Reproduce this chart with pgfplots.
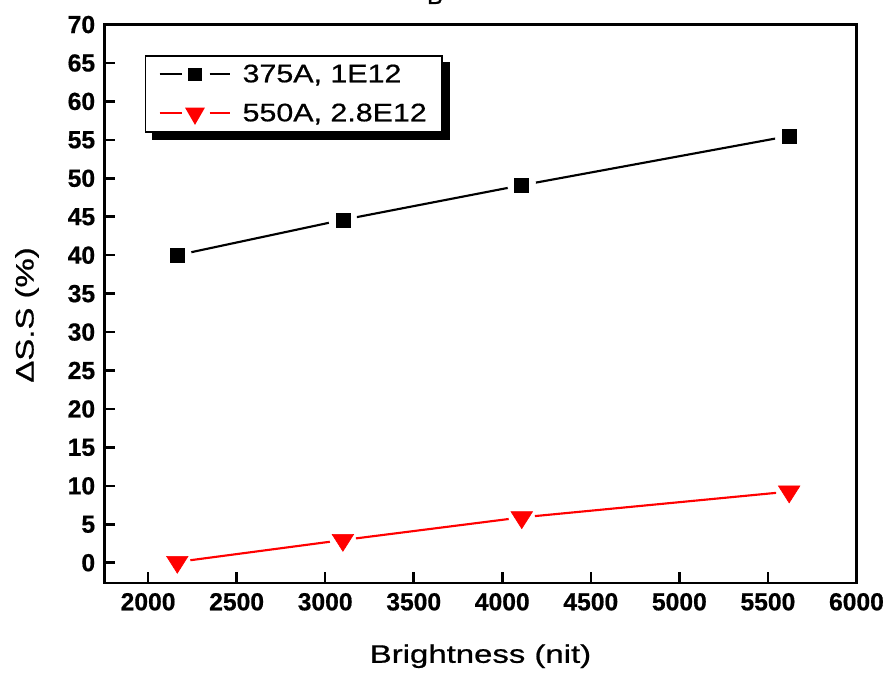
\documentclass[border=0pt]{standalone}
\usepackage{fontspec}
\setmainfont[FakeBold=0.6]{Liberation Sans}
\usepackage{pgfplots}
\pgfplotsset{compat=1.18}
\usetikzlibrary{backgrounds}
\pgfplotsset{gaplegend/.style={legend image code/.code={
  \draw[##1, mark=none] (0pt,0pt) -- (16.5pt,0pt);
  \draw[##1, mark=none] (37.5pt,0pt) -- (52.5pt,0pt);
  \draw[##1, only marks] plot coordinates {(26.6pt,0pt)};
}}}
\begin{document}
\begin{tikzpicture}
\begin{axis}[
  name=ax,
  width=564pt, height=418.9pt, scale only axis,
  xmin=1754, xmax=6000, ymin=-2.64, ymax=70,
  xtick={2000,2500,...,6000}, ytick={0,5,...,70},
  tick pos=left, tick align=inside, major tick length=8pt,
  axis line style={line width=1.9pt},
  tick style={black, line width=1.9pt},
  xticklabel style={font=\fontsize{18.5}{18.5}\selectfont\bfseries, yshift=-4pt},
  yticklabel style={font=\fontsize{18.5}{18.5}\selectfont\bfseries, xshift=-3.5pt},
  /pgf/number format/assume math mode=true,
  /pgf/number format/1000 sep={},
  scaled x ticks=false,
  xlabel={\scalebox{1.3}[1]{Brightness (nit)}},
  ylabel={\scalebox{1.3}[1]{ΔS.S (\%)}},
  xlabel style={at={(axis description cs:0.5,-0.1428)}, anchor=base, font=\fontsize{19}{19}\selectfont},
  ylabel style={at={(axis description cs:-0.0944,0.48)}, anchor=base, font=\fontsize{19}{19}\selectfont},
  legend style={name=leg, at={(axis description cs:0.054,0.945)}, anchor=north west,
    draw=black, line width=1pt, fill=white,
    font=\fontsize{19}{19}\selectfont, inner xsep=9.5pt, inner ysep=4.5pt, row sep=10.5pt,
    /tikz/every odd column/.append style={column sep=7pt}},
  legend cell align=left,
]
% black series
\addplot[black, line width=1.6pt, mark=none, forget plot] table {
x y
2165 40.0
3100 44.6
4110 49.1
5620 55.5
};
\addplot[only marks, mark=*, mark size=10.5pt, white, forget plot] table {
x y
2165 40.0
3100 44.6
4110 49.1
5620 55.5
};
\addplot[only marks, mark=square*, mark size=5.25pt, black, forget plot] table {
x y
2165 40.0
3100 44.6
4110 49.1
5620 55.5
};
% red series
\addplot[red, line width=1.6pt, mark=none, forget plot] table {
x y
2165 0.1
3100 2.95
4110 5.9
5620 9.25
};
\addplot[only marks, mark=*, mark size=9.75pt, white, forget plot] table {
x y
2165 0.1
3100 2.95
4110 5.9
5620 9.25
};
\addplot[only marks, mark=triangle*, mark size=8.5pt, red, mark options={rotate=180, xscale=1.1}, forget plot] table {
x y
2165 0.1
3100 2.95
4110 5.9
5620 9.25
};
\addlegendimage{black, line width=1.6pt, mark=square*, mark size=4.1pt, gaplegend}
\addlegendentry{\scalebox{1.2}[1]{375A, 1E12}}
\addlegendimage{red, line width=1.6pt, mark=triangle*, mark size=7pt, mark options={rotate=180}, gaplegend}
\addlegendentry{\scalebox{1.2}[1]{550A, 2.8E12}}
\end{axis}
\begin{pgfonlayer}{background}
\fill[black] ([shift={(5.25pt,-5.25pt)}]leg.south west) rectangle ([shift={(5.25pt,-5.25pt)}]leg.north east);
\end{pgfonlayer}
\path (ax.north west) ++(247.9pt,15.4pt) node[anchor=base, font=\fontsize{18}{18}\selectfont, inner sep=0pt] {B};
\pgfresetboundingbox
\path[use as bounding box] ([shift={(-78.4pt,-67.5pt)}]ax.south west) rectangle ([shift={(24.4pt,18.4pt)}]ax.north east);
\end{tikzpicture}
\end{document}
